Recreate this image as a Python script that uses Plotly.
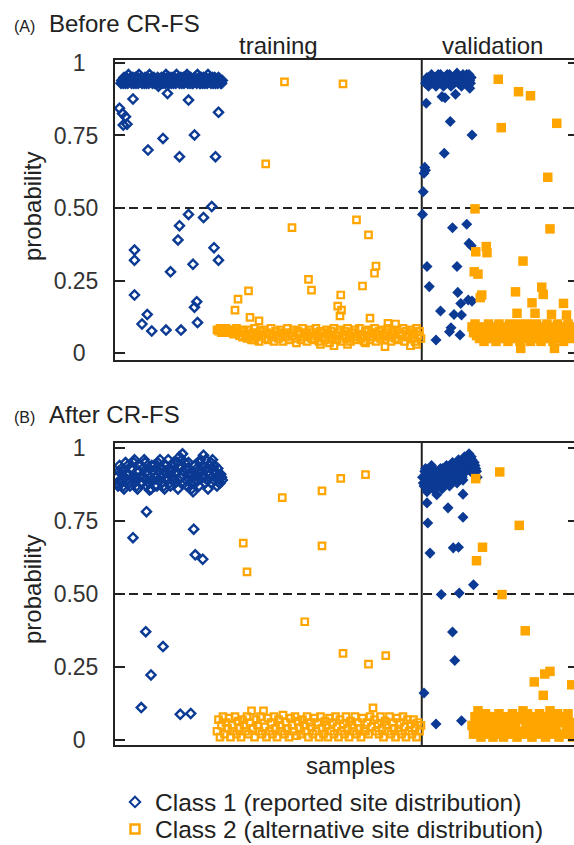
import numpy as np
import plotly.graph_objects as go

BLUE = "#0b3a94"
ORANGE = "#ffa500"
INK = "#222222"
FONT = "Liberation Sans, Arial, Helvetica, sans-serif"

# ---------------- axes / labels ----------------
N_TRAIN = 204          # samples 1..204 are training, the rest validation
X_MAX = 306
TICK_VALS = [0, 0.25, 0.5, 0.75, 1]
TICK_TEXT = ["0\u2007", "0.25", "0.50", "0.75", "1\u2007"]
CLASS1_NAME = "Class 1 (reported site distribution)"
CLASS2_NAME = "Class 2 (alternative site distribution)"

# ---------------- (A) Before CR-FS ----------------
A_TR1_BAND_START = 4
A_TR1_BAND = [0.93, 0.94, 0.95, 0.93, 0.94, 0.96, 0.94, 0.93, 0.95, 0.94,
              0.93, 0.95, 0.96, 0.94, 0.93, 0.94, 0.95, 0.93, 0.94, 0.96,
              0.94, 0.93, 0.95, 0.94, 0.93, 0.92, 0.94, 0.95, 0.93, 0.94,
              0.96, 0.95, 0.93, 0.94, 0.95, 0.93, 0.94, 0.96, 0.94, 0.93,
              0.95, 0.94, 0.93, 0.94, 0.96, 0.95, 0.93, 0.94, 0.93, 0.95,
              0.94, 0.96, 0.95, 0.93, 0.94, 0.95, 0.93, 0.94, 0.96, 0.94,
              0.93, 0.95, 0.94, 0.93, 0.94, 0.95, 0.94, 0.93]
A_TR1_BAND2 = [0.94, 0.93, 0.94, 0.95, 0.93, 0.94, 0.95, 0.94, 0.93, 0.95,
               0.94, 0.93, 0.94, 0.95, 0.94, 0.93, 0.94, 0.95, 0.93, 0.94,
               0.95, 0.94, 0.93, 0.94, 0.95, 0.93, 0.93, 0.94, 0.95, 0.93,
               0.94, 0.93, 0.95, 0.93, 0.94, 0.95, 0.93, 0.94, 0.95, 0.94,
               0.93, 0.95, 0.94, 0.95, 0.93, 0.94, 0.95, 0.93, 0.94, 0.94,
               0.93, 0.94, 0.93, 0.95, 0.93, 0.94, 0.95, 0.93, 0.94, 0.95,
               0.94, 0.93, 0.95, 0.94, 0.93, 0.94, 0.93, 0.94]
A_TR1_OUT_X = [3, 5, 7, 5.5, 8, 12, 22, 32, 35, 43, 49, 53, 67, 69, 64.5, 59, 49, 43, 42, 66,
               69, 13, 13, 37, 52, 13, 54.5, 53, 21.5, 18, 24.5, 34, 44, 55]
A_TR1_OUT_Y = [0.844, 0.826, 0.815, 0.786, 0.789, 0.876, 0.70, 0.74, 0.895, 0.677,
               0.872, 0.752, 0.677, 0.83, 0.505, 0.467, 0.478, 0.439, 0.39, 0.363,
               0.32, 0.355, 0.32, 0.28, 0.306, 0.20, 0.177, 0.158, 0.133, 0.10,
               0.076, 0.079, 0.079, 0.105]

A_TR2_BAND_START = 68
A_TR2_BAND = [0.08, 0.075, 0.085, 0.07, 0.08, 0.075, 0.085, 0.08, 0.07, 0.075,
              0.08, 0.065, 0.075, 0.085, 0.07, 0.06, 0.08, 0.055, 0.075, 0.065,
              0.05, 0.08, 0.06, 0.045, 0.07, 0.085, 0.055, 0.065, 0.04, 0.075,
              0.06, 0.08, 0.05, 0.07, 0.045, 0.065, 0.085, 0.055, 0.04, 0.075,
              0.06, 0.05, 0.08, 0.07, 0.04, 0.065, 0.055, 0.085, 0.045, 0.07,
              0.06, 0.08, 0.05, 0.035, 0.075, 0.065, 0.045, 0.085, 0.055, 0.07,
              0.04, 0.06, 0.08, 0.05, 0.07, 0.045, 0.085, 0.06, 0.04, 0.075,
              0.055, 0.07, 0.045, 0.08, 0.065, 0.035, 0.075, 0.05, 0.085, 0.06,
              0.045, 0.07, 0.08, 0.04, 0.06, 0.075, 0.05, 0.085, 0.065, 0.04,
              0.07, 0.055, 0.08, 0.045, 0.065, 0.085, 0.05, 0.06, 0.04, 0.075,
              0.06, 0.08, 0.045, 0.07, 0.055, 0.085, 0.04, 0.065, 0.075, 0.05,
              0.08, 0.06, 0.045, 0.07, 0.085, 0.055, 0.04, 0.075, 0.065, 0.05,
              0.08, 0.045, 0.07, 0.06, 0.085, 0.04, 0.075, 0.055, 0.065, 0.08,
              0.05, 0.07, 0.04, 0.085, 0.06, 0.075, 0.05]
A_TR2_OUT_X = [80, 82, 89, 90, 96, 118, 113, 100.5, 152, 161, 169, 129, 131, 174, 173, 165,
               150.5, 148.5, 151, 150, 170, 182, 187, 93, 137, 146, 155, 167, 180, 197, 201]
A_TR2_OUT_Y = [0.148, 0.186, 0.214, 0.123, 0.111, 0.432, 0.935, 0.652, 0.928, 0.459,
               0.407, 0.254, 0.217, 0.30, 0.275, 0.231, 0.20, 0.162, 0.148, 0.128,
               0.12, 0.102, 0.10, 0.045, 0.03, 0.025, 0.03, 0.035, 0.022, 0.025, 0.03]

A_VA1_BAND_START = 207
A_VA1_BAND = [0.93, 0.95, 0.92, 0.94, 0.96, 0.93, 0.95, 0.92, 0.94, 0.93,
              0.96, 0.94, 0.92, 0.95, 0.93, 0.94, 0.96, 0.92, 0.95, 0.93,
              0.94, 0.965, 0.93, 0.95, 0.92, 0.96, 0.94, 0.93, 0.95, 0.96, 0.93]
A_VA1_BAND2 = [0.94, 0.93, 0.95, 0.93, 0.94, 0.95, 0.93, 0.94, 0.96, 0.95,
               0.93, 0.95, 0.94, 0.93, 0.96, 0.95, 0.93, 0.94, 0.94, 0.95,
               0.96, 0.94, 0.95, 0.94, 0.93, 0.95, 0.93, 0.96, 0.94, 0.94, 0.95]
A_VA1_OUT_X = [218, 220, 227, 236.5, 207.5, 223.5, 238, 219.5, 206.5, 207, 206, 205.5, 205,
               225, 234.5, 236, 237.5, 208, 228, 209.5, 228.5, 230.5, 235.5, 238, 217,
               226, 231, 224, 223, 230, 214]
A_VA1_OUT_Y = [0.884, 0.88, 0.892, 0.913, 0.861, 0.798, 0.752, 0.689, 0.64, 0.63,
               0.62, 0.556, 0.478, 0.432, 0.444, 0.378, 0.37, 0.298, 0.298, 0.229,
               0.209, 0.171, 0.183, 0.179, 0.145, 0.133, 0.131, 0.087, 0.073, 0.062, 0.045]

A_VA2_BAND_START = 238
A_VA2_BAND = [0.09, 0.07, 0.1, 0.06, 0.08, 0.05, 0.09, 0.07, 0.04, 0.08,
              0.06, 0.1, 0.05, 0.07, 0.09, 0.06, 0.04, 0.08, 0.1, 0.05,
              0.07, 0.09, 0.06, 0.08, 0.04, 0.1, 0.07, 0.05, 0.09, 0.06,
              0.08, 0.1, 0.04, 0.07, 0.09, 0.05, 0.06, 0.1, 0.08, 0.04,
              0.07, 0.09, 0.05, 0.1, 0.06, 0.08, 0.04, 0.07, 0.09, 0.06,
              0.1, 0.05, 0.08, 0.07, 0.04, 0.09, 0.06, 0.1, 0.05, 0.08,
              0.07, 0.04, 0.09, 0.06, 0.1, 0.08, 0.05, 0.07, 0.09]
A_VA2_OUT_X = [255.5, 269, 277, 257.5, 294.5, 288.5, 240, 290, 240.5, 247.5, 248, 272, 239.5,
               242, 284.5, 285.5, 267, 244.5, 243.5, 278, 299, 301, 268, 280, 291, 270.5, 293]
A_VA2_OUT_Y = [0.944, 0.901, 0.887, 0.777, 0.792, 0.606, 0.497, 0.428, 0.349, 0.367,
               0.346, 0.317, 0.28, 0.272, 0.227, 0.202, 0.211, 0.2, 0.191, 0.173,
               0.171, 0.131, 0.137, 0.137, 0.133, 0.016, 0.016]

# ---------------- (B) After CR-FS ----------------
B_TR1_BAND_START = 1
B_TR1_BAND = [0.9, 0.87, 0.94, 0.88, 0.92, 0.86, 0.95, 0.89, 0.91, 0.87,
              0.93, 0.88, 0.96, 0.9, 0.86, 0.92, 0.94, 0.88, 0.9, 0.95,
              0.87, 0.91, 0.93, 0.86, 0.89, 0.94, 0.9, 0.87, 0.92, 0.96,
              0.88, 0.91, 0.86, 0.94, 0.89, 0.93, 0.87, 0.9, 0.95, 0.88,
              0.92, 0.86, 0.97, 0.9, 0.98, 0.88, 0.93, 0.87, 0.95, 0.91,
              0.86, 0.85, 0.94, 0.89, 0.92, 0.87, 0.96, 0.9, 0.975, 0.88,
              0.93, 0.86, 0.91, 0.95, 0.96, 0.89, 0.92, 0.87, 0.9, 0.88, 0.9]
B_TR1_BAND2 = [0.88, 0.92, 0.89, 0.93, 0.87, 0.9, 0.91, 0.94, 0.88, 0.93,
               0.9, 0.95, 0.89, 0.87, 0.92, 0.9, 0.88, 0.93, 0.96, 0.89,
               0.92, 0.88, 0.9, 0.94, 0.92, 0.87, 0.93, 0.95, 0.89, 0.9,
               0.93, 0.87, 0.92, 0.9, 0.96, 0.88, 0.92, 0.94, 0.89, 0.91,
               0.95, 0.89, 0.93, 0.96, 0.92, 0.95, 0.89, 0.91, 0.93, 0.88,
               0.91, 0.9, 0.88, 0.93, 0.9, 0.95, 0.92, 0.94, 0.9, 0.96,
               0.89, 0.92, 0.94, 0.88, 0.92, 0.94, 0.9, 0.93, 0.88, 0.91, 0.89]
B_TR1_OUT_X = [23, 21, 12, 52.5, 53.5, 58.5, 20.5, 32, 24, 17.5, 43.5, 50.5]
B_TR1_OUT_Y = [0.856, 0.782, 0.693, 0.722, 0.634, 0.619, 0.371, 0.32, 0.223, 0.111, 0.088, 0.091]

B_TR2_BAND_START = 68
B_TR2_BAND = [0.03, 0.07, 0.01, 0.05, 0.08, 0.02, 0.06, 0.04, 0.075, 0.01,
              0.05, 0.03, 0.08, 0.02, 0.065, 0.04, 0.01, 0.07, 0.05, 0.03,
              0.08, 0.02, 0.06, 0.1, 0.04, 0.01, 0.07, 0.05, 0.03, 0.08,
              0.02, 0.1, 0.045, 0.01, 0.075, 0.03, 0.06, 0.02, 0.08, 0.04,
              0.01, 0.07, 0.05, 0.03, 0.085, 0.02, 0.06, 0.04, 0.01, 0.075,
              0.05, 0.03, 0.08, 0.015, 0.065, 0.04, 0.02, 0.07, 0.05, 0.03,
              0.08, 0.01, 0.06, 0.045, 0.02, 0.075, 0.03, 0.06, 0.01, 0.08,
              0.04, 0.02, 0.065, 0.05, 0.01, 0.075, 0.03, 0.06, 0.02, 0.08,
              0.045, 0.01, 0.07, 0.03, 0.055, 0.02, 0.08, 0.04, 0.01, 0.065,
              0.05, 0.03, 0.08, 0.02, 0.06, 0.04, 0.01, 0.075, 0.03, 0.03,
              0.06, 0.02, 0.08, 0.045, 0.11, 0.07, 0.03, 0.055, 0.02, 0.08,
              0.04, 0.01, 0.065, 0.05, 0.03, 0.08, 0.02, 0.06, 0.04, 0.01,
              0.075, 0.03, 0.06, 0.02, 0.08, 0.045, 0.01, 0.07, 0.03, 0.055,
              0.02, 0.07, 0.04, 0.01, 0.06, 0.03, 0.05]
B_TR2_OUT_X = [111.5, 85.5, 88, 138, 150.5, 167, 138, 126.5, 152, 169, 180.5]
B_TR2_OUT_Y = [0.83, 0.674, 0.576, 0.853, 0.896, 0.909, 0.665, 0.405, 0.297, 0.26, 0.289]

B_VA1_BAND_START = 205
B_VA1_BAND = [0.9, 0.87, 0.93, 0.85, 0.91, 0.88, 0.94, 0.86, 0.9, 0.92,
              0.87, 0.89, 0.93, 0.86, 0.91, 0.88, 0.94, 0.9, 0.87, 0.92,
              0.95, 0.89, 0.93, 0.88, 0.96, 0.91, 0.94, 0.89, 0.97, 0.92,
              0.95, 0.98, 0.93, 0.96, 0.91, 0.94, 0.92]
B_VA1_BAND2 = [0.88, 0.92, 0.89, 0.9, 0.87, 0.93, 0.9, 0.92, 0.88, 0.89,
               0.92, 0.9, 0.88, 0.93, 0.89, 0.92, 0.91, 0.88, 0.94, 0.9,
               0.92, 0.94, 0.9, 0.95, 0.92, 0.93, 0.9, 0.96, 0.94, 0.96,
               0.93, 0.95, 0.97, 0.92, 0.95, 0.93, 0.9]
B_VA1_OUT_X = [214.5, 232, 208, 222, 232, 208.5, 210, 225.5, 229, 239, 217.5, 229.5,
               225, 226.5, 206, 214, 231]
B_VA1_OUT_Y = [0.84, 0.842, 0.812, 0.795, 0.763, 0.743, 0.64, 0.658, 0.66, 0.532, 0.498,
               0.503, 0.37, 0.272, 0.161, 0.055, 0.066]

B_VA2_BAND_START = 238
B_VA2_BAND = [0.05, 0.02, 0.08, 0.03, 0.1, 0.06, 0.01, 0.07, 0.04, 0.09,
              0.02, 0.06, 0.03, 0.08, 0.01, 0.05, 0.07, 0.02, 0.09, 0.04,
              0.06, 0.01, 0.08, 0.03, 0.07, 0.05, 0.02, 0.09, 0.04, 0.06,
              0.01, 0.08, 0.03, 0.07, 0.1, 0.02, 0.05, 0.09, 0.03, 0.06,
              0.01, 0.08, 0.04, 0.07, 0.02, 0.09, 0.05, 0.03, 0.08, 0.01,
              0.06, 0.04, 0.1, 0.02, 0.07, 0.05, 0.03, 0.09, 0.01, 0.06,
              0.08, 0.02, 0.07, 0.04, 0.09, 0.03, 0.06, 0.01, 0.05]
B_VA2_OUT_X = [256.5, 240.5, 269.5, 245, 241, 258, 273.5, 290, 286.5, 304.5, 279.5, 285.5]
B_VA2_OUT_Y = [0.918, 0.895, 0.735, 0.66, 0.614, 0.498, 0.374, 0.235, 0.226, 0.189, 0.199, 0.153]

# ---------------- styles ----------------
OPEN_DIAMOND = dict(symbol="diamond-open", size=7, color=BLUE, line=dict(width=2.4, color=BLUE))
OPEN_SQUARE = dict(symbol="square-open", size=6.5, color=ORANGE, line=dict(width=2.2, color=ORANGE))
FILLED_DIAMOND = dict(symbol="diamond", size=8.5, color=BLUE, line=dict(width=0))
FILLED_SQUARE = dict(symbol="square", size=9.5, color=ORANGE, line=dict(width=0))

fig = go.Figure()


def add_points(xa, ya, x, y, marker):
    fig.add_trace(go.Scatter(x=x, y=y, mode="markers", marker=marker,
                             xaxis=xa, yaxis=ya, showlegend=False, hoverinfo="skip"))


def add_group(xa, ya, band_start, band_y, out_x, out_y, marker, band2_y=None):
    add_points(xa, ya, band_start + np.arange(len(band_y)), band_y, marker)
    if band2_y is not None:   # second run of samples lying between the first ones
        add_points(xa, ya, band_start + 0.5 + np.arange(len(band2_y)), band2_y, marker)
    add_points(xa, ya, out_x, out_y, marker)


add_group("x", "y", A_TR1_BAND_START, A_TR1_BAND, A_TR1_OUT_X, A_TR1_OUT_Y, OPEN_DIAMOND, A_TR1_BAND2)
add_group("x", "y", A_TR2_BAND_START, A_TR2_BAND, A_TR2_OUT_X, A_TR2_OUT_Y, OPEN_SQUARE)
add_group("x", "y", A_VA1_BAND_START, A_VA1_BAND, A_VA1_OUT_X, A_VA1_OUT_Y, FILLED_DIAMOND, A_VA1_BAND2)
add_group("x", "y", A_VA2_BAND_START, A_VA2_BAND, A_VA2_OUT_X, A_VA2_OUT_Y, FILLED_SQUARE)

add_group("x2", "y2", B_TR1_BAND_START, B_TR1_BAND, B_TR1_OUT_X, B_TR1_OUT_Y, OPEN_DIAMOND, B_TR1_BAND2)
add_group("x2", "y2", B_TR2_BAND_START, B_TR2_BAND, B_TR2_OUT_X, B_TR2_OUT_Y, OPEN_SQUARE)
add_group("x2", "y2", B_VA1_BAND_START, B_VA1_BAND, B_VA1_OUT_X, B_VA1_OUT_Y, FILLED_DIAMOND, B_VA1_BAND2)
add_group("x2", "y2", B_VA2_BAND_START, B_VA2_BAND, B_VA2_OUT_X, B_VA2_OUT_Y, FILLED_SQUARE)

# invisible traces so the right-hand tick axes exist
fig.add_trace(go.Scatter(x=[None], y=[None], xaxis="x", yaxis="y3", showlegend=False))
fig.add_trace(go.Scatter(x=[None], y=[None], xaxis="x2", yaxis="y4", showlegend=False))

# legend entries
fig.add_trace(go.Scatter(x=[None], y=[None], mode="markers", name=CLASS1_NAME,
                         marker=dict(symbol="diamond-open", size=8, color=BLUE,
                                     line=dict(width=2, color=BLUE)),
                         legend="legend", showlegend=True))
fig.add_trace(go.Scatter(x=[None], y=[None], mode="markers", name=CLASS2_NAME,
                         marker=dict(symbol="square-open", size=9, color=ORANGE,
                                     line=dict(width=2.5, color=ORANGE)),
                         legend="legend2", showlegend=True))

W, H = 574, 845
XDOM = [115 / W, 1.0]
YDOM_A = [1 - 360 / H, 1 - 60 / H]
YDOM_B = [1 - 745 / H, 1 - 443 / H]
YR_A = [-0.0241, 1.0103]
YR_B = [-0.0171, 1.0171]

xcommon = dict(domain=XDOM, range=[0, X_MAX], showline=True, mirror=True, linewidth=2,
               linecolor=INK, showticklabels=False, ticks="", showgrid=False, zeroline=False)
ycommon = dict(tickmode="array", tickvals=TICK_VALS, ticktext=TICK_TEXT, ticks="inside",
               ticklen=10, tickwidth=2, tickcolor=INK, showline=True, linewidth=2,
               linecolor=INK, showgrid=False, zeroline=False, ticklabelstandoff=10,
               tickfont=dict(family=FONT, size=23, color="#333333"))
yright = dict(tickmode="array", tickvals=TICK_VALS, ticks="inside", ticklen=6, tickwidth=2,
              tickcolor=INK, showline=False, showgrid=False, zeroline=False,
              showticklabels=False, side="right")

legend_common = dict(xanchor="left", yanchor="middle", bgcolor="rgba(0,0,0,0)",
                     borderwidth=0, font=dict(family=FONT, size=24.5, color="#222222"),
                     itemclick=False, itemdoubleclick=False)

fig.update_layout(
    width=W, height=H, margin=dict(l=0, r=0, t=0, b=0, autoexpand=False),
    paper_bgcolor="white", plot_bgcolor="white",
    font=dict(family=FONT, color="#222222"),
    xaxis=dict(anchor="y", **xcommon),
    yaxis=dict(domain=YDOM_A, range=YR_A, anchor="x", **ycommon),
    xaxis2=dict(anchor="y2", **xcommon),
    yaxis2=dict(domain=YDOM_B, range=YR_B, anchor="x2", **ycommon),
    yaxis3=dict(overlaying="y", anchor="x", range=YR_A, **yright),
    yaxis4=dict(overlaying="y2", anchor="x2", range=YR_B, **yright),
    legend=dict(x=115 / W, y=1 - 802 / H, **legend_common),
    legend2=dict(x=115 / W, y=1 - 829 / H, **legend_common),
)

shapes = []
for xr, yr in (("x", "y"), ("x2", "y2")):
    shapes.append(dict(type="line", xref=xr, yref=yr + " domain", x0=N_TRAIN + 0.5,
                       x1=N_TRAIN + 0.5, y0=0, y1=1, line=dict(color=INK, width=2),
                       layer="below"))
    shapes.append(dict(type="line", xref=xr + " domain", yref=yr, x0=0, x1=1, y0=0.5,
                       y1=0.5, line=dict(color=INK, width=2, dash="9px,5px"),
                       layer="below"))
fig.update_layout(shapes=shapes)

ann = []


def text(x, y, s, size, **kw):
    ann.append(dict(x=x / W, y=1 - y / H, xref="paper", yref="paper", text=s,
                    showarrow=False, font=dict(family=FONT, size=size, color="#222222"), **kw))


text(12, 26, "(A)", 16, xanchor="left", yanchor="middle")
text(47, 23, "Before CR-FS", 24, xanchor="left", yanchor="middle")
text(12, 417, "(B)", 16, xanchor="left", yanchor="middle")
text(47, 414, "After CR-FS", 24, xanchor="left", yanchor="middle")
text(278, 45, "training", 24, xanchor="center", yanchor="middle")
text(492, 45, "validation", 24, xanchor="center", yanchor="middle")
text(32, 207, "probability", 24, xanchor="center", yanchor="middle", textangle=-90)
text(32, 590, "probability", 24, xanchor="center", yanchor="middle", textangle=-90)
text(350, 765, "samples", 24, xanchor="center", yanchor="middle")
fig.update_layout(annotations=ann)

fig.write_html("out.html")
